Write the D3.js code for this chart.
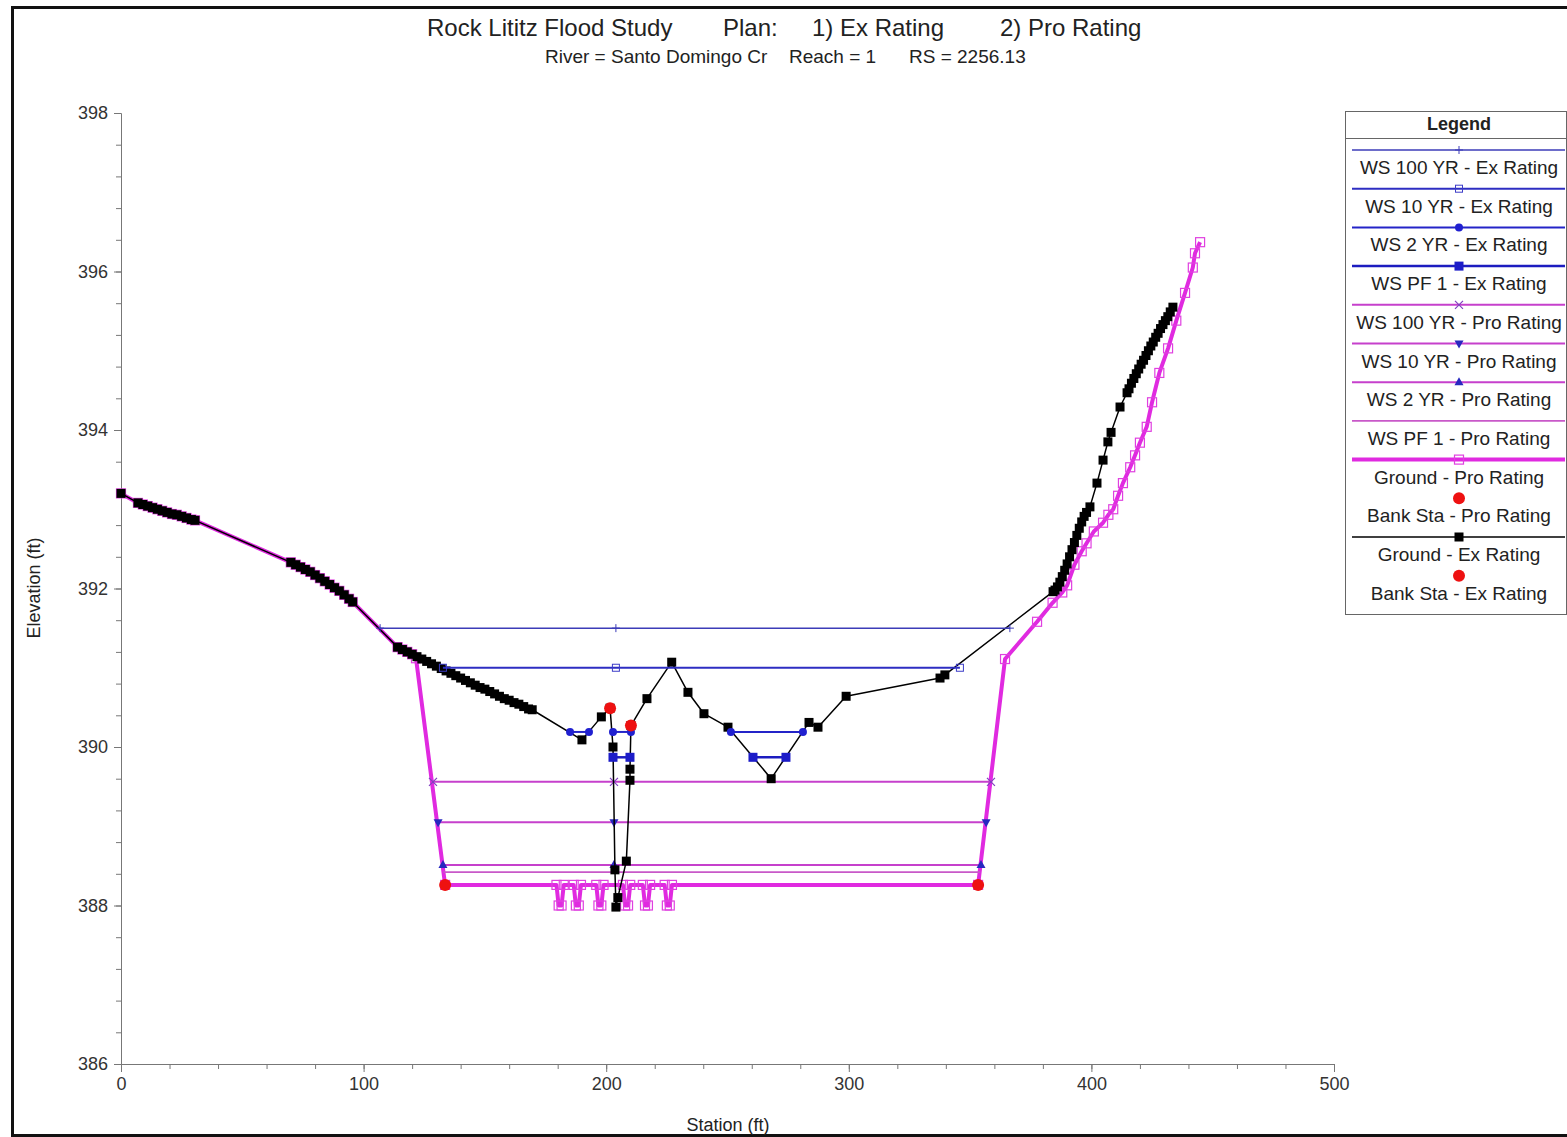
<!DOCTYPE html>
<html>
<head>
<meta charset="utf-8">
<script src="https://cdn.jsdelivr.net/npm/d3@7"></script>
<style>
  body { margin: 0; background: #fff; }
  text { font-family: "Liberation Sans", Arial, sans-serif; }
</style>
</head>
<body>
<svg id="chart" width="1567" height="1137"></svg>
<script>
// ---- data ----
// Ground - Ex Rating (station ft, elevation ft)
const exGroundSta = [0, 7, 9, 11, 13, 15, 17, 19, 21, 23, 25, 27, 29, 30.5,
  70, 72, 74, 76, 78, 80, 82, 84, 86, 88, 90, 92, 94, 95.5,
  114, 116, 118, 120, 122, 124, 126, 128, 130, 132, 134, 136, 138, 140, 142, 144, 146, 148,
  150, 152, 154, 156, 158, 160, 162, 164, 166, 168, 169.5,
  190, 198, 201.6, 202.8, 203.6, 204.0, 204.8, 208.3, 209.8, 209.8, 210.2,
  216.8, 227, 233.7, 240.3, 250.2, 268, 283.6, 287.3, 298.9, 337.6, 339.6,
  384.2, 385, 386, 387, 388, 389, 390, 391, 392, 393, 394, 395, 396, 397, 398, 399.4,
  402.3, 404.8, 406.8, 408.1, 411.8, 414.7,
  415.5, 416.5, 417.5, 418.5, 419.5, 420.5, 421.5, 422.5, 423.5, 424.5, 425.5, 426.5,
  427.5, 428.5, 429.5, 430.5, 431.5, 432.5, 433.6];
const exGroundElev = [393.20, 393.08, 393.06, 393.04, 393.02, 393.00, 392.98, 392.96, 392.94, 392.93, 392.91, 392.89, 392.87, 392.86,
  392.33, 392.30, 392.27, 392.24, 392.21, 392.17, 392.13, 392.09, 392.05, 392.01, 391.97, 391.92, 391.87, 391.83,
  391.26, 391.23, 391.20, 391.17, 391.14, 391.11, 391.08, 391.05, 391.02, 390.99, 390.96, 390.93, 390.90, 390.87, 390.84, 390.81, 390.78, 390.75,
  390.73, 390.70, 390.67, 390.64, 390.61, 390.59, 390.56, 390.54, 390.51, 390.48, 390.47,
  390.09, 390.38, 390.49, 390.00, 388.45, 387.98, 388.10, 388.56, 389.58, 389.72, 390.27,
  390.61, 391.07, 390.69, 390.42, 390.25, 389.60, 390.31, 390.25, 390.64, 390.87, 390.91,
  391.96, 391.98, 392.02, 392.08, 392.15, 392.23, 392.31, 392.40, 392.49, 392.58, 392.67, 392.76, 392.84, 392.91, 392.96, 393.03,
  393.33, 393.62, 393.85, 393.97, 394.29, 394.47,
  394.52, 394.59, 394.65, 394.71, 394.77, 394.83, 394.88, 394.94, 395.00, 395.06, 395.11, 395.17,
  395.22, 395.28, 395.33, 395.38, 395.43, 395.49, 395.55];

// Ground - Pro Rating: same left overbank as Ex up to sta 120, then these points
const proGroundSta = [121.6, 133.6,
  179.5, 180.4, 181.6, 182.5,
  186.6, 187.5, 188.7, 189.6,
  195.9, 196.8, 198.0, 198.9,
  206.9, 207.8, 209.0, 209.9,
  215.1, 216.0, 217.2, 218.1,
  224.1, 225.0, 226.2, 227.1,
  353.3, 364.4, 377.6, 384, 388, 390, 393, 396, 398, 401, 404.8, 407, 409, 411, 413,
  416, 418, 420, 422.8, 425, 428, 431.6, 435, 438.6, 441.8, 442.7, 444.8];
const proGroundElev = [391.12, 388.26,
  388.26, 388.00, 388.00, 388.26,
  388.26, 388.00, 388.00, 388.26,
  388.26, 388.00, 388.00, 388.26,
  388.26, 388.00, 388.00, 388.26,
  388.26, 388.00, 388.00, 388.26,
  388.26, 388.00, 388.00, 388.26,
  388.26, 391.11, 391.58, 391.82, 391.95, 392.04, 392.30, 392.47, 392.57, 392.72, 392.83, 392.93, 393.00, 393.17, 393.33,
  393.53, 393.68, 393.84, 394.04, 394.35, 394.72, 395.03, 395.38, 395.73, 396.05, 396.23, 396.37];

const exBankSta = [201.6, 210.2];
const exBankElev = [390.49, 390.27];
const proBankSta = [133.6, 353.3];
const proBankElev = [388.26, 388.26];

// water surfaces
const wsNames = ["WS 100 YR - Ex Rating", "WS 10 YR - Ex Rating", "WS 2 YR - Ex Rating", "WS PF 1 - Ex Rating",
  "WS 100 YR - Pro Rating", "WS 10 YR - Pro Rating", "WS 2 YR - Pro Rating", "WS PF 1 - Pro Rating"];
const wsElev = [391.50, 391.00, 390.19, 389.87, 389.56, 389.05, 388.51, 388.42];
const wsReaches = [
  [[106.8, 366.4]],
  [[132.7, 345.8]],
  [[185.1, 192.9], [202.8, 210.2], [251.4, 281.1]],
  [[202.8, 209.8], [260.5, 274.1]],
  [[128.6, 358.6]],
  [[130.7, 356.6]],
  [[132.7, 354.5]],
  [[132.9, 354.2]]
];
const wsMidSta = [204, 204, null, null, 203.2, 203.2, 203.2, null];

const legendNames = wsNames.concat(["Ground - Pro Rating", "Bank Sta - Pro Rating", "Ground - Ex Rating", "Bank Sta - Ex Rating"]);

const yMajor = [386, 388, 390, 392, 394, 396, 398];
const xMajor = [0, 100, 200, 300, 400, 500];

// ---- styles ----
const styles = {
  "WS 100 YR - Ex Rating": { stroke: "#3c3cb8", width: 1.5, mark: "plus", fill: "#3c3cb8" },
  "WS 10 YR - Ex Rating": { stroke: "#2e2ec2", width: 2, mark: "hsquare", fill: "#3c3cc8" },
  "WS 2 YR - Ex Rating": { stroke: "#2424c8", width: 2, mark: "circle", fill: "#2020d0" },
  "WS PF 1 - Ex Rating": { stroke: "#1c1cc0", width: 2.5, mark: "square", fill: "#1c1cc8" },
  "WS 100 YR - Pro Rating": { stroke: "#c640cc", width: 2, mark: "x", fill: "#8040c0" },
  "WS 10 YR - Pro Rating": { stroke: "#c640cc", width: 2, mark: "tridown", fill: "#2828c0" },
  "WS 2 YR - Pro Rating": { stroke: "#c640cc", width: 2, mark: "triup", fill: "#2828c0" },
  "WS PF 1 - Pro Rating": { stroke: "#c858c8", width: 1.8, mark: null, fill: null },
  "Ground - Pro Rating": { stroke: "#e02ae0", width: 4, mark: "hsquareBig", fill: "#e040e0" },
  "Bank Sta - Pro Rating": { stroke: null, width: 0, mark: "bank", fill: "#ee1111" },
  "Ground - Ex Rating": { stroke: "#000", width: 1.5, mark: "square", fill: "#000" },
  "Bank Sta - Ex Rating": { stroke: null, width: 0, mark: "bank", fill: "#ee1111" }
};

const svg = d3.select("#chart");

// frame
svg.append("rect")
  .attr("x", 12.5).attr("y", 7.5)
  .attr("width", 1600).attr("height", 1128)
  .attr("fill", "none").attr("stroke", "#111").attr("stroke-width", 3);

const x = d3.scaleLinear().domain([0, 500]).range([121, 1334]);
const y = d3.scaleLinear().domain([386, 398]).range([1064, 113]);

// axes
function styleAxis(g) {
  g.selectAll("path, line").attr("stroke", "#777");
  g.selectAll("text").attr("fill", "#333").style("font-size", "18px");
}
svg.append("g").attr("transform", "translate(121,0)")
  .call(d3.axisLeft(y).tickValues(d3.range(386, 398.01, 0.4)).tickSize(5).tickSizeOuter(0).tickFormat(""))
  .call(styleAxis);
svg.append("g").attr("transform", "translate(121,0)")
  .call(d3.axisLeft(y).tickValues(yMajor).tickSize(7).tickSizeOuter(0).tickPadding(6).tickFormat(d3.format("d")))
  .call(styleAxis);
svg.append("g").attr("transform", "translate(0,1064)")
  .call(d3.axisBottom(x).tickValues(d3.range(0, 501, 20)).tickSize(5).tickSizeOuter(0).tickFormat(""))
  .call(styleAxis);
svg.append("g").attr("transform", "translate(0,1064)")
  .call(d3.axisBottom(x).tickValues(xMajor).tickSize(8).tickSizeOuter(0).tickPadding(5).tickFormat(d3.format("d")))
  .call(styleAxis);

svg.append("text").attr("x", 728).attr("y", 1131).attr("text-anchor", "middle")
  .style("font-size", "18px").attr("fill", "#222").text("Station (ft)");
svg.append("text").attr("transform", "translate(40,588) rotate(-90)").attr("text-anchor", "middle")
  .style("font-size", "18px").attr("fill", "#222").text("Elevation (ft)");

// titles
const t1 = svg.append("g").style("font-size", "24px").attr("fill", "#222");
t1.append("text").attr("x", 427).attr("y", 36).text("Rock Lititz Flood Study");
t1.append("text").attr("x", 723).attr("y", 36).text("Plan:");
t1.append("text").attr("x", 812).attr("y", 36).text("1) Ex Rating");
t1.append("text").attr("x", 1000).attr("y", 36).text("2) Pro Rating");
const t2 = svg.append("g").style("font-size", "19px").attr("fill", "#222");
t2.append("text").attr("x", 545).attr("y", 63).text("River = Santo Domingo Cr");
t2.append("text").attr("x", 789).attr("y", 63).text("Reach = 1");
t2.append("text").attr("x", 909).attr("y", 63).text("RS = 2256.13");

// marker helper
function drawMark(g, type, cx, cy, color) {
  if (!type) return;
  if (type === "plus") {
    g.append("path").attr("d", `M${cx - 4},${cy}H${cx + 4}M${cx},${cy - 4}V${cy + 4}`)
      .attr("stroke", color).attr("stroke-width", 1);
  } else if (type === "x") {
    g.append("path").attr("d", `M${cx - 4},${cy - 4}L${cx + 4},${cy + 4}M${cx - 4},${cy + 4}L${cx + 4},${cy - 4}`)
      .attr("stroke", color).attr("stroke-width", 1.2);
  } else if (type === "hsquare") {
    g.append("rect").attr("x", cx - 3.5).attr("y", cy - 3.5).attr("width", 7).attr("height", 7)
      .attr("fill", "none").attr("stroke", color).attr("stroke-width", 1);
  } else if (type === "hsquareBig") {
    g.append("rect").attr("x", cx - 4.5).attr("y", cy - 4.5).attr("width", 9).attr("height", 9)
      .attr("fill", "none").attr("stroke", color).attr("stroke-width", 1.2);
  } else if (type === "square") {
    g.append("rect").attr("x", cx - 4.5).attr("y", cy - 4.5).attr("width", 9).attr("height", 9).attr("fill", color);
  } else if (type === "circle") {
    g.append("circle").attr("cx", cx).attr("cy", cy).attr("r", 4).attr("fill", color);
  } else if (type === "bank") {
    g.append("circle").attr("cx", cx).attr("cy", cy).attr("r", 6).attr("fill", color);
  } else if (type === "triup") {
    g.append("path").attr("d", `M${cx},${cy - 5}L${cx + 4.5},${cy + 3}L${cx - 4.5},${cy + 3}Z`).attr("fill", color);
  } else if (type === "tridown") {
    g.append("path").attr("d", `M${cx},${cy + 5}L${cx + 4.5},${cy - 3}L${cx - 4.5},${cy - 3}Z`).attr("fill", color);
  }
}

const line = d3.line().x(d => x(d[0])).y(d => y(d[1]));

const exGround = exGroundSta.map((s, i) => [s, exGroundElev[i]]);
const proGround = exGround.filter(d => d[0] <= 120)
  .concat(proGroundSta.map((s, i) => [s, proGroundElev[i]]));

const plot = svg.append("g");

function drawGround(pts, name) {
  const st = styles[name];
  const g = plot.append("g");
  g.append("path").datum(pts).attr("d", line)
    .attr("fill", "none").attr("stroke", st.stroke).attr("stroke-width", st.width)
    .attr("stroke-linejoin", "round");
  pts.forEach(d => drawMark(g, st.mark, x(d[0]), y(d[1]), st.fill));
}

function drawWS(i) {
  const st = styles[wsNames[i]];
  const g = plot.append("g");
  wsReaches[i].forEach(r => {
    g.append("line")
      .attr("x1", x(r[0])).attr("x2", x(r[1]))
      .attr("y1", y(wsElev[i])).attr("y2", y(wsElev[i]))
      .attr("stroke", st.stroke).attr("stroke-width", st.width);
  });
  const marks = [];
  wsReaches[i].forEach(r => { marks.push(r[0], r[1]); });
  if (wsMidSta[i] !== null) marks.push(wsMidSta[i]);
  marks.forEach(s => drawMark(g, st.mark, x(s), y(wsElev[i]), st.fill));
}

// draw order: pro ground, pro water, ex ground, ex water, banks
drawGround(proGround, "Ground - Pro Rating");
[7, 6, 5, 4].forEach(drawWS);
drawGround(exGround, "Ground - Ex Rating");
[3, 2, 1, 0].forEach(drawWS);
proBankSta.forEach((s, i) => drawMark(plot, "bank", x(s), y(proBankElev[i]), styles["Bank Sta - Pro Rating"].fill));
exBankSta.forEach((s, i) => drawMark(plot, "bank", x(s), y(exBankElev[i]), styles["Bank Sta - Ex Rating"].fill));

// legend
const lg = svg.append("g");
lg.append("rect").attr("x", 1345.5).attr("y", 111.5).attr("width", 221).attr("height", 503)
  .attr("fill", "#fff").attr("stroke", "#666").attr("stroke-width", 1);
lg.append("text").attr("x", 1459).attr("y", 130).attr("text-anchor", "middle")
  .style("font-size", "18px").style("font-weight", "bold").attr("fill", "#222").text("Legend");
lg.append("line").attr("x1", 1345).attr("x2", 1567).attr("y1", 138.5).attr("y2", 138.5)
  .attr("stroke", "#666").attr("stroke-width", 1);

legendNames.forEach((name, i) => {
  const st = styles[name];
  const ly = 150 + i * 38.7;
  if (st.stroke) {
    lg.append("line").attr("x1", 1352).attr("x2", 1565).attr("y1", ly).attr("y2", ly)
      .attr("stroke", st.stroke).attr("stroke-width", st.width);
  }
  drawMark(lg, st.mark, 1459, ly, st.fill);
  lg.append("text").attr("x", 1459).attr("y", ly + 24).attr("text-anchor", "middle")
    .style("font-size", "19px").attr("fill", "#222").text(name);
});
</script>
</body>
</html>
